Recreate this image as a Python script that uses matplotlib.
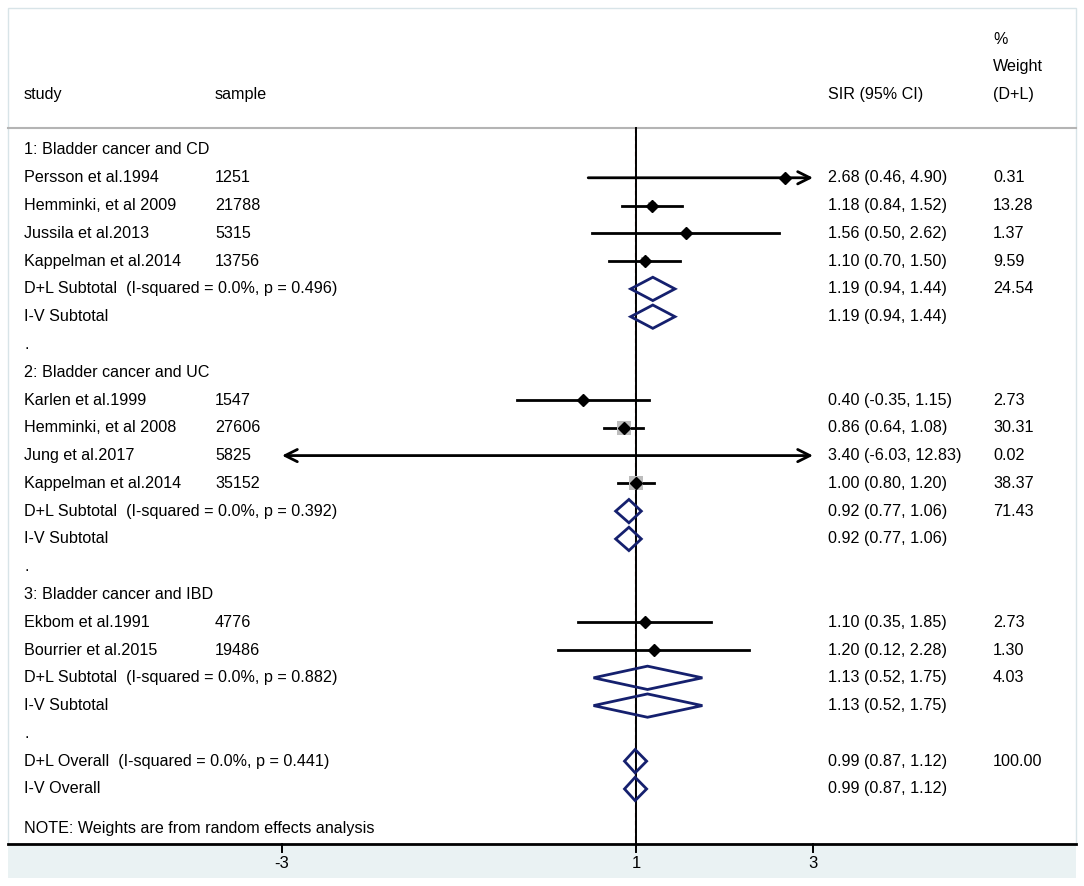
import numpy as np
import matplotlib
matplotlib.use("Agg")
import matplotlib.pyplot as plt
from matplotlib.patches import Rectangle, Polygon

plt.rcParams['font.family'] = ['Liberation Sans', 'DejaVu Sans']

# ---------- data ----------
group_titles = ["1: Bladder cancer and CD", "2: Bladder cancer and UC", "3: Bladder cancer and IBD"]

study_names = [
    ["Persson et al.1994", "Hemminki, et al 2009", "Jussila et al.2013", "Kappelman et al.2014"],
    ["Karlen et al.1999", "Hemminki, et al 2008", "Jung et al.2017", "Kappelman et al.2014"],
    ["Ekbom et al.1991", "Bourrier et al.2015"],
]
samples = [[1251, 21788, 5315, 13756], [1547, 27606, 5825, 35152], [4776, 19486]]
sir = [[2.68, 1.18, 1.56, 1.10], [0.40, 0.86, 3.40, 1.00], [1.10, 1.20]]
ci_low = [[0.46, 0.84, 0.50, 0.70], [-0.35, 0.64, -6.03, 0.80], [0.35, 0.12]]
ci_high = [[4.90, 1.52, 2.62, 1.50], [1.15, 1.08, 12.83, 1.20], [1.85, 2.28]]
weights = [[0.31, 13.28, 1.37, 9.59], [2.73, 30.31, 0.02, 38.37], [2.73, 1.30]]

sub_p = ["0.496", "0.392", "0.882"]
sub_est = [1.19, 0.92, 1.13]
sub_low = [0.94, 0.77, 0.52]
sub_high = [1.44, 1.06, 1.75]
sub_weight = [24.54, 71.43, 4.03]

overall_p = "0.441"
overall_est, overall_low, overall_high = 0.99, 0.87, 1.12

xticks = [-3, 1, 3]
x_min, x_max = -3, 3

# ---------- geometry (pixels) ----------
W, H = 1084, 886
row0_px, row_px = 150, 27.78
x1_px, unit_px = 636, 88.5

def px_x(p):
    return 1 + (p - x1_px) / unit_px

def px_r(p):
    return (p - row0_px) / row_px

fig = plt.figure(figsize=(W / 100, H / 100), dpi=100)
ax = fig.add_axes([0, 0, 1, 1])
ax.set_xlim(px_x(0), px_x(W))
ax.set_ylim(px_r(H), px_r(0))
ax.axis('off')

left, right = px_x(8), px_x(1076)
top, axis_r, bottom = px_r(8), px_r(844), px_r(878)
sep_r = px_r(128)

ax.add_patch(Rectangle((left, top), right - left, axis_r - top, facecolor='white',
                       edgecolor='#d8e4e8', lw=1, zorder=0))
ax.add_patch(Rectangle((left, axis_r), right - left, bottom - axis_r, facecolor='#eaf2f3',
                       edgecolor='none', zorder=0))
ax.plot([left, right], [sep_r, sep_r], color='#b4b4b4', lw=1.5, zorder=1)
ax.plot([left, right], [axis_r, axis_r], color='black', lw=2, zorder=3)

# reference lines (null at 1, dashed overall estimate)
ax.plot([1, 1], [sep_r, axis_r], color='black', lw=1.4, zorder=2)
ax.plot([overall_est - 0.006] * 2, [sep_r, axis_r], color='#9a3030', lw=0.8,
        ls=(0, (4, 3)), zorder=1.5)

for t in xticks:
    ax.plot([t, t], [axis_r, axis_r + 0.3], color='black', lw=1.4, zorder=3)
    ax.text(t, px_r(863), str(t), ha='center', va='center', fontsize=12)

# text columns
tfs = 11.6
col_study, col_sample = px_x(24), px_x(215)
col_sir, col_w = px_x(828), px_x(993)
navy = '#15206e'

ax.text(col_study, px_r(94), "study", fontsize=tfs, va='center')
ax.text(col_sample, px_r(94), "sample", fontsize=tfs, va='center')
ax.text(col_sir, px_r(94), "SIR (95% CI)", fontsize=tfs, va='center')
ax.text(col_w, px_r(40), "%", fontsize=tfs, va='center')
ax.text(col_w, px_r(67), "Weight", fontsize=tfs, va='center')
ax.text(col_w, px_r(94), "(D+L)", fontsize=tfs, va='center')

def ci_text(e, lo, hi):
    return f"{e:.2f} ({lo:.2f}, {hi:.2f})"

def pooled(r, e, lo, hi):
    ax.add_patch(Polygon([(lo, r), (e, r - 0.42), (hi, r), (e, r + 0.42)], closed=True,
                         fill=False, edgecolor=navy, lw=2, zorder=4))

r = 0
for g in range(3):
    ax.text(col_study, r, group_titles[g], fontsize=tfs, va='center')
    r += 1
    for i in range(len(study_names[g])):
        e, lo, hi, w = sir[g][i], ci_low[g][i], ci_high[g][i], weights[g][i]
        ax.text(col_study, r, study_names[g][i], fontsize=tfs, va='center')
        ax.text(col_sample, r, str(samples[g][i]), fontsize=tfs, va='center')
        ax.text(col_sir, r, ci_text(e, lo, hi), fontsize=tfs, va='center')
        ax.text(col_w, r, f"{w:.2f}", fontsize=tfs, va='center')
        a, b = max(lo, x_min), min(hi, x_max)
        if lo < x_min or hi > x_max:
            style = '<->' if (lo < x_min and hi > x_max) else ('->' if hi > x_max else '<-')
            ax.annotate('', xy=(b, r), xytext=(a, r),
                        arrowprops=dict(arrowstyle=style, lw=2, color='black',
                                        mutation_scale=22, shrinkA=0, shrinkB=0), zorder=3)
        else:
            ax.plot([a, b], [r, r], color='black', lw=2, zorder=3)
        if x_min <= e <= x_max:
            side_pt = 2.42 * np.sqrt(w) * 0.72
            ax.scatter([e], [r], marker='s', s=side_pt ** 2, color='#bdbdbd', lw=0, zorder=3.5)
            ax.plot([e], [r], marker='D', ms=6.3, color='black', zorder=5)
        r += 1
    ax.text(col_study, r, f"D+L Subtotal  (I-squared = 0.0%, p = {sub_p[g]})", fontsize=tfs, va='center')
    ax.text(col_sir, r, ci_text(sub_est[g], sub_low[g], sub_high[g]), fontsize=tfs, va='center')
    ax.text(col_w, r, f"{sub_weight[g]:.2f}", fontsize=tfs, va='center')
    pooled(r, sub_est[g], sub_low[g], sub_high[g])
    r += 1
    ax.text(col_study, r, "I-V Subtotal", fontsize=tfs, va='center')
    ax.text(col_sir, r, ci_text(sub_est[g], sub_low[g], sub_high[g]), fontsize=tfs, va='center')
    pooled(r, sub_est[g], sub_low[g], sub_high[g])
    r += 1
    ax.text(col_study, r, ".", fontsize=tfs, va='center')
    r += 1

ax.text(col_study, r, f"D+L Overall  (I-squared = 0.0%, p = {overall_p})", fontsize=tfs, va='center')
ax.text(col_sir, r, ci_text(overall_est, overall_low, overall_high), fontsize=tfs, va='center')
ax.text(col_w, r, "100.00", fontsize=tfs, va='center')
pooled(r, overall_est, overall_low, overall_high)
r += 1
ax.text(col_study, r, "I-V Overall", fontsize=tfs, va='center')
ax.text(col_sir, r, ci_text(overall_est, overall_low, overall_high), fontsize=tfs, va='center')
pooled(r, overall_est, overall_low, overall_high)

ax.text(col_study, px_r(829), "NOTE: Weights are from random effects analysis", fontsize=tfs, va='center')

fig.savefig("out.png", dpi=100, facecolor='white')
